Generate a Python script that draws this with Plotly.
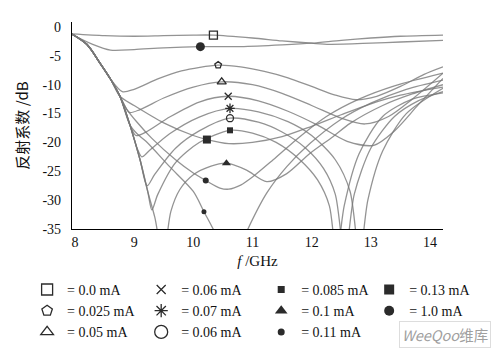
import plotly.graph_objects as go

# ---- data ----
x_ticks = [8, 9, 10, 11, 12, 13, 14]
y_ticks = [0, -5, -10, -15, -20, -25, -30, -35]

labels = ["0.0 mA", "0.025 mA", "0.05 mA", "0.06 mA", "0.07 mA", "0.06 mA",
          "0.085 mA", "0.1 mA", "0.11 mA", "0.13 mA", "1.0 mA", ""]

f_00 = [7.95, 8.5, 9.0, 9.5, 10.0, 10.34, 11.0, 11.5, 12.0, 12.3, 13.0, 13.5, 14.22]
r_00 = [-1.2, -1.5, -1.6, -1.5, -1.4, -1.4, -1.9, -2.4, -2.8, -3.0, -2.8, -2.6, -2.3]

f_10 = [7.95, 8.3, 8.6, 9.0, 9.5, 10.12, 10.8, 11.5, 12.0, 12.5, 13.0, 13.5, 14.22]
r_10 = [-1.3, -3.0, -4.0, -3.9, -3.6, -3.4, -3.4, -3.1, -2.8, -2.3, -1.9, -1.6, -1.4]

f_025 = [7.95, 8.2, 8.42, 8.6, 8.8, 9.0, 9.4, 9.8, 10.42, 10.8, 11.2, 11.6, 12.0, 12.4, 12.75, 13.1, 13.5, 13.9, 14.22]
r_025 = [-1.2, -3.0, -6.2, -9.0, -11.2, -10.8, -9.0, -7.6, -6.6, -6.9, -7.7, -8.8, -10.3, -11.8, -12.6, -12.0, -10.3, -8.2, -6.9]

f_05 = [7.95, 8.2, 8.42, 8.6, 8.76, 8.92, 9.1, 9.5, 10.0, 10.48, 11.0, 11.5, 12.0, 12.5, 12.9, 13.3, 13.7, 14.22]
r_05 = [-1.2, -3.0, -6.2, -9.0, -12.0, -14.8, -14.3, -12.3, -10.4, -9.5, -10.0, -11.5, -13.6, -15.8, -16.8, -15.5, -12.5, -8.0]

f_06 = [7.95, 8.2, 8.42, 8.6, 8.76, 8.93, 9.03, 9.2, 9.6, 10.1, 10.59, 11.1, 11.6, 12.1, 12.6, 13.05, 13.4, 13.8, 14.22]
r_06 = [-1.2, -3.0, -6.2, -9.0, -12.0, -17.0, -18.8, -18.2, -15.6, -13.0, -12.0, -12.8, -14.6, -17.0, -19.8, -20.5, -18.0, -13.5, -8.9]

f_07 = [7.95, 8.2, 8.42, 8.6, 8.76, 8.93, 9.05, 9.13, 9.25, 9.6, 10.1, 10.62, 11.1, 11.6, 12.0, 12.4, 12.65, 12.81, 12.95, 13.2, 13.6, 14.22]
r_07 = [-1.2, -3.0, -6.2, -9.0, -12.0, -17.0, -21.0, -22.5, -21.5, -18.5, -15.6, -14.1, -14.7, -16.4, -18.8, -23.0, -28.5, -40.0, -30.0, -21.5, -15.0, -10.6]

f_06b = [7.95, 8.2, 8.42, 8.6, 8.76, 8.93, 9.1, 9.22, 9.35, 9.7, 10.1, 10.62, 11.1, 11.5, 11.9, 12.2, 12.4, 12.56, 12.72, 13.0, 13.4, 13.8, 14.22]
r_06b = [-1.2, -3.0, -6.2, -9.0, -12.0, -17.0, -23.0, -27.5, -25.5, -21.0, -18.0, -15.8, -16.5, -18.2, -21.0, -24.5, -29.0, -40.0, -29.0, -21.0, -15.5, -12.8, -11.2]

f_085 = [7.95, 8.2, 8.42, 8.6, 8.76, 8.93, 9.1, 9.23, 9.3, 9.4, 9.7, 10.1, 10.62, 11.0, 11.4, 11.8, 12.1, 12.3, 12.42, 12.55, 12.8, 13.2, 13.7, 14.22]
r_085 = [-1.2, -3.0, -6.2, -9.0, -12.0, -17.0, -23.0, -28.5, -31.7, -29.0, -23.5, -20.0, -17.9, -18.4, -20.0, -23.0, -26.5, -31.0, -40.0, -31.0, -22.0, -15.5, -12.5, -11.4]

f_01 = [7.95, 8.2, 8.42, 8.6, 8.76, 8.93, 9.1, 9.23, 9.35, 9.49, 9.62, 9.77, 10.0, 10.3, 10.56, 10.9, 11.24, 11.58, 11.97, 12.36, 12.65, 13.2, 13.7, 14.22]
r_01 = [-1.2, -3.0, -6.2, -9.0, -12.0, -17.0, -23.0, -28.5, -33.0, -40.0, -32.0, -28.2, -25.6, -24.1, -23.6, -24.8, -26.8, -25.4, -21.9, -19.0, -16.7, -13.6, -11.6, -10.0]

f_011 = [7.95, 8.2, 8.42, 8.6, 8.76, 8.88, 9.05, 9.3, 9.7, 10.0, 10.21, 10.45, 10.6, 10.8, 11.0, 11.35, 11.8, 12.25, 12.8, 13.4, 14.22]
r_011 = [-1.2, -3.0, -6.2, -9.0, -12.0, -14.3, -16.5, -19.3, -23.0, -25.3, -26.6, -27.9, -28.1, -27.4, -26.0, -23.0, -19.0, -15.5, -12.5, -10.2, -8.0]

f_013 = [7.95, 8.2, 8.42, 8.6, 8.76, 9.0, 9.5, 10.0, 10.23, 10.6, 11.0, 11.5, 12.0, 12.5, 13.0, 13.5, 14.22]
r_013 = [-1.2, -3.0, -6.2, -9.0, -12.0, -13.6, -16.6, -18.8, -19.5, -20.2, -20.0, -19.0, -17.2, -15.2, -13.3, -11.8, -10.4]

f_x = [7.95, 8.2, 8.42, 8.6, 8.76, 8.93, 9.05, 9.2, 9.6, 10.0, 10.18, 10.36, 10.63, 10.9, 11.24, 11.58, 11.97, 12.48, 13.0, 13.6, 14.22]
r_x = [-1.2, -3.0, -6.2, -9.0, -12.0, -17.0, -18.5, -19.8, -24.2, -28.5, -32.0, -35.5, -42.0, -35.5, -28.8, -24.2, -20.2, -16.1, -13.2, -10.8, -9.2]

freqs = [f_00, f_025, f_05, f_06, f_07, f_06b, f_085, f_01, f_011, f_013, f_10, f_x]
refl = [r_00, r_025, r_05, r_06, r_07, r_06b, r_085, r_01, r_011, r_013, r_10, r_x]

# marker (label) point on each curve
mark_f = [10.34, 10.42, 10.48, 10.59, 10.62, 10.62, 10.62, 10.56, 10.21, 10.23, 10.12, 10.18]
mark_r = [-1.4, -6.6, -9.5, -12.0, -14.1, -15.8, -17.9, -23.6, -26.6, -19.5, -3.4, -32.0]

symbols = ["square-open", "pentagon-open", "triangle-up-open", "x-thin-open", "asterisk-open",
           "circle-open", "square", "triangle-up", "circle", "square", "circle", "circle"]
sizes = [8, 7, 8, 7, 8, 7, 6, 8, 6, 8, 9, 5]
leg_sizes = [11, 11, 11, 9, 11, 13, 7, 11, 7, 10, 10, 5]
# legend column of each series (4 columns, as in the reference)
leg_col = ["legend", "legend", "legend", "legend2", "legend2", "legend2",
           "legend3", "legend3", "legend3", "legend4", "legend4", None]
col_x = [-0.121, 0.1865, 0.51, 0.801]

LINE = "rgba(120,120,120,0.8)"
MARK = "#2b2b2b"
SERIF = "Liberation Serif"

fig = go.Figure()
for i in range(len(freqs)):
    fig.add_trace(go.Scatter(x=freqs[i], y=refl[i], mode="lines",
                             line=dict(color=LINE, width=1.3, shape="spline", smoothing=0.8),
                             showlegend=False, hoverinfo="skip"))
for i in range(len(freqs)):
    lw = 1.3 if symbols[i].endswith("open") else 0
    fig.add_trace(go.Scatter(x=[mark_f[i]], y=[mark_r[i]], mode="markers",
                             marker=dict(symbol=symbols[i], size=sizes[i], color=MARK,
                                         line=dict(color=MARK, width=lw)),
                             showlegend=False, cliponaxis=False))
for i in range(11):
    lw = 1.3 if symbols[i].endswith("open") else 0
    fig.add_trace(go.Scatter(x=[None], y=[None], mode="markers", name="= " + labels[i],
                             legend=leg_col[i],
                             marker=dict(symbol=symbols[i], size=leg_sizes[i], color=MARK,
                                         line=dict(color=MARK, width=lw))))

leg_common = dict(orientation="v", xanchor="left", y=-0.217, yanchor="top", itemwidth=30,
                  font=dict(family=SERIF, size=14, color="#111"), bgcolor="rgba(0,0,0,0)",
                  tracegroupgap=0, traceorder="normal")

fig.update_layout(
    width=502, height=357,
    margin=dict(l=64, r=67, t=14, b=136, autoexpand=False),
    paper_bgcolor="white", plot_bgcolor="white",
    font=dict(family=SERIF, size=14, color="#111"),
    showlegend=True,
    legend=dict(x=col_x[0], **leg_common),
    legend2=dict(x=col_x[1], **leg_common),
    legend3=dict(x=col_x[2], **leg_common),
    legend4=dict(x=col_x[3], **leg_common),
    annotations=[dict(text="<i>WeeQoo</i>维库", xref="paper", yref="paper",
                      x=(445 - 72) / 371, y=(229 - 334) / 207, xanchor="center", yanchor="middle",
                      showarrow=False, font=dict(family="Noto Sans CJK SC", size=14.5, color="#a0a0a0"),
                      bordercolor="#dddddd", borderwidth=1, borderpad=2)],
)
fig.update_xaxes(range=[7.95, 14.22], tickvals=x_ticks, ticktext=[str(v) for v in x_ticks],
                 showline=True, linecolor="black", linewidth=1.2, showgrid=False, zeroline=False,
                 ticks="", ticklabelstandoff=0,
                 title=dict(text="<i>f</i> /GHz", font=dict(family=SERIF, size=15), standoff=6))
fig.update_yaxes(range=[-35, 0.87], tickvals=y_ticks, ticktext=[str(v) for v in y_ticks],
                 showline=True, linecolor="black", linewidth=1.2, showgrid=False, zeroline=False,
                 ticks="", ticklabelstandoff=7,
                 title=dict(text="反射系数 /dB", font=dict(family="Noto Sans CJK SC", size=15), standoff=10))

fig.write_html("out.html")
